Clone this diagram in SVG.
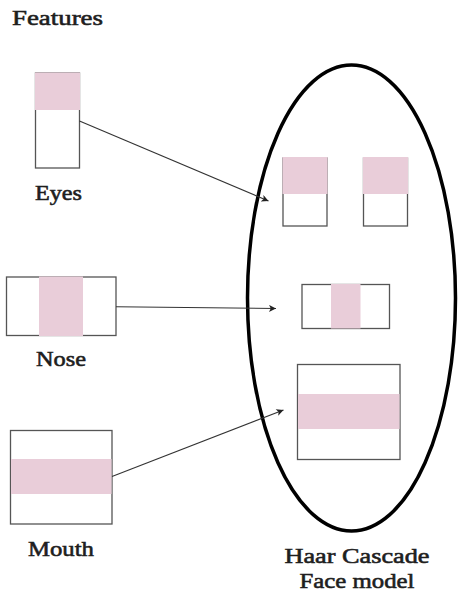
<svg xmlns="http://www.w3.org/2000/svg" width="458" height="595" viewBox="0 0 458 595">
  <style>
    .box { fill: #ffffff; stroke: #555555; stroke-width: 1.3; }
    .hi { fill: #e9cdd9; stroke: none; }
    .lbl { font-family: "Liberation Serif", "Times New Roman", serif; font-size: 22px; font-weight: normal; fill: #1e1e1e; stroke: #1e1e1e; stroke-width: 0.6; }
    .edge { stroke: #333333; stroke-width: 1.1; fill: none; marker-end: url(#arrow); }
  </style>
  <defs>
    <marker id="arrow" viewBox="0 0 10 10" refX="10" refY="5" markerWidth="9" markerHeight="7" markerUnits="userSpaceOnUse" orient="auto">
      <path d="M0,0 L10,5 L0,10 L2.5,5 Z" fill="#222222"/>
    </marker>
  </defs>
  <rect width="458" height="595" fill="#ffffff"/>

  <text class="lbl" x="12" y="25" textLength="91" lengthAdjust="spacingAndGlyphs">Features</text>

  <!-- feature templates -->
  <g id="eyes">
    <rect class="box" x="35.5" y="73" width="44" height="95"/>
    <rect class="hi" x="35" y="72.5" width="45" height="37.5"/>
    <text class="lbl" x="35" y="200" textLength="47" lengthAdjust="spacingAndGlyphs">Eyes</text>
  </g>
  <g id="nose">
    <rect class="box" x="6.5" y="277" width="109.5" height="58.5"/>
    <rect class="hi" x="39" y="276.5" width="44" height="59.5"/>
    <text class="lbl" x="36" y="366" textLength="50" lengthAdjust="spacingAndGlyphs">Nose</text>
  </g>
  <g id="mouth">
    <rect class="box" x="10.5" y="430.5" width="101.5" height="93.5"/>
    <rect class="hi" x="11" y="459" width="100.5" height="35"/>
    <text class="lbl" x="28" y="556" textLength="66" lengthAdjust="spacingAndGlyphs">Mouth</text>
  </g>

  <!-- face model -->
  <g id="face-model">
    <ellipse cx="351.5" cy="298" rx="104" ry="233" fill="none" stroke="#000000" stroke-width="3.5"/>
    <g id="model-eye-left">
      <rect class="box" x="283" y="158" width="44" height="68"/>
      <rect class="hi" x="282.5" y="157" width="45" height="37"/>
    </g>
    <g id="model-eye-right">
      <rect class="box" x="363.5" y="158" width="44" height="68"/>
      <rect class="hi" x="363" y="157" width="45" height="37"/>
    </g>
    <g id="model-nose">
      <rect class="box" x="302" y="284.5" width="87.5" height="44"/>
      <rect class="hi" x="331" y="284" width="29.5" height="44.5"/>
    </g>
    <g id="model-mouth">
      <rect class="box" x="297.5" y="364.5" width="102.5" height="95"/>
      <rect class="hi" x="298" y="394" width="101.5" height="35"/>
    </g>
    <text class="lbl" x="357" y="563" text-anchor="middle" textLength="145" lengthAdjust="spacingAndGlyphs">Haar Cascade</text>
    <text class="lbl" x="357" y="588" text-anchor="middle" textLength="115" lengthAdjust="spacingAndGlyphs">Face model</text>
  </g>

  <g id="connectors">
    <line class="edge" x1="79.5" y1="121" x2="268.5" y2="201"/>
    <line class="edge" x1="116" y1="306.8" x2="276" y2="308.5"/>
    <line class="edge" x1="112" y1="476.5" x2="283.5" y2="410"/>
  </g>
</svg>
